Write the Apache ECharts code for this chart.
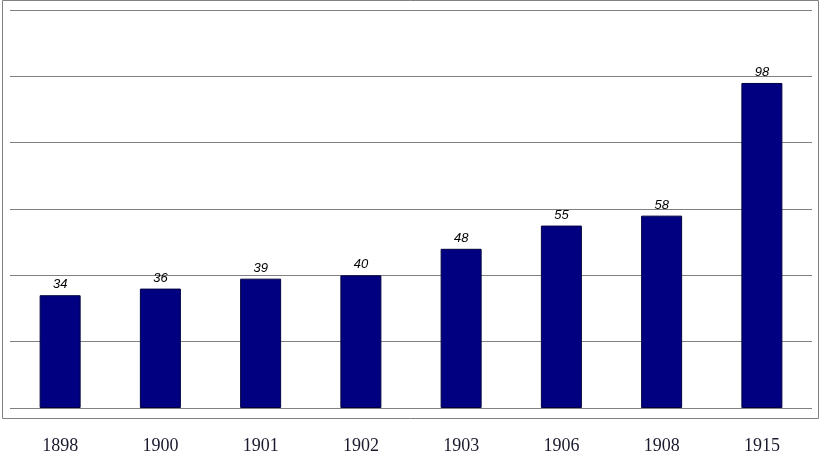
<!DOCTYPE html>
<html>
<head>
<meta charset="utf-8">
<script src="https://cdn.jsdelivr.net/npm/echarts@6/dist/echarts.min.js"></script>
<style>
  html, body { margin: 0; padding: 0; background: #fff; }
  #container { width: 821px; height: 453px; }
</style>
</head>
<body>
<div id="container"></div>
<script>
const years = ['1898', '1900', '1901', '1902', '1903', '1906', '1908', '1915'];
const values = [34, 36, 39, 40, 48, 55, 58, 98];

const myChart = echarts.init(document.getElementById('container'));
const option = {
    animation: false,
    grid: { left: 10, right: 9, top: 10, bottom: 45, outerBoundsMode: 'none' },
    graphic: [{
        type: 'rect',
        shape: { x: 2.5, y: 0.5, width: 816, height: 418 },
        style: { fill: 'none', stroke: '#808080', lineWidth: 1 },
        silent: true
    }],
    xAxis: {
        type: 'category',
        data: years,
        axisLine: { show: false },
        axisTick: { show: false },
        axisLabel: {
            margin: 29,
            fontFamily: 'Liberation Serif',
            fontSize: 18,
            color: '#1a1a2e'
        }
    },
    yAxis: {
        type: 'value',
        min: 0,
        max: 120,
        interval: 20,
        axisLine: { show: false },
        axisTick: { show: false },
        axisLabel: { show: false },
        splitLine: { lineStyle: { color: '#808080', width: 1 } }
    },
    series: [{
        type: 'bar',
        data: values,
        barWidth: 41,
        itemStyle: { color: '#000080', borderColor: '#000040', borderWidth: 1 },
        label: {
            show: true,
            position: 'top',
            distance: 4,
            fontFamily: 'Liberation Sans',
            fontStyle: 'italic',
            fontSize: 13,
            color: '#000'
        }
    }]
};
myChart.setOption(option);
window.addEventListener('resize', () => {
    myChart.resize()
})
</script>
</body>
</html>
